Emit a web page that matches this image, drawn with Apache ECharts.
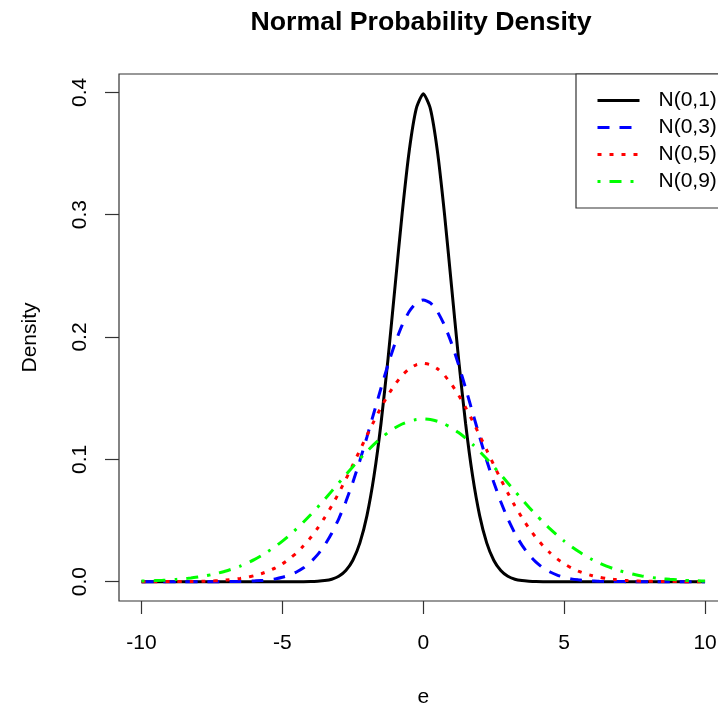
<!DOCTYPE html>
<html>
<head>
<meta charset="utf-8">
<script src="https://cdn.jsdelivr.net/npm/echarts@6/dist/echarts.min.js"></script>
<style>
html,body{margin:0;padding:0;background:#fff;}
#chart{width:718px;height:706px;}
</style>
</head>
<body>
<div id="chart"></div>
<script>
// ---- data ----
var titleText = 'Normal Probability Density';
var xName = 'e';
var yName = 'Density';
var seriesNames = ['N(0,1)', 'N(0,3)', 'N(0,5)', 'N(0,9)'];
var xTicks = [-10, -5, 0, 5, 10];
var yTicks = [0, 0.1, 0.2, 0.3, 0.4];

var xs = [-10,-9.75,-9.5,-9.25,-9,-8.75,-8.5,-8.25,-8,-7.75,-7.5,-7.25,-7,-6.75,-6.5,-6.25,-6,-5.75,-5.5,-5.25,
  -5,-4.75,-4.5,-4.25,-4,-3.75,-3.5,-3.25,-3,-2.75,-2.5,-2.25,-2,-1.75,-1.5,-1.25,-1,-0.75,-0.5,-0.25,
  0,0.25,0.5,0.75,1,1.25,1.5,1.75,2,2.25,2.5,2.75,3,3.25,3.5,3.75,4,4.25,4.5,4.75,
  5,5.25,5.5,5.75,6,6.25,6.5,6.75,7,7.25,7.5,7.75,8,8.25,8.5,8.75,9,9.25,9.5,9.75,10];

var n01 = [0,0,0,0,0,0,0,0,0,0,0,0,0,0,0,0,0,0,0,0,0,0,0,0,
  0.0001,0.0004,0.0009,0.0020,0.0044,0.0091,0.0175,0.0317,0.0540,0.0863,0.1295,0.1826,0.2420,0.3011,0.3521,0.3867,
  0.3989,
  0.3867,0.3521,0.3011,0.2420,0.1826,0.1295,0.0863,0.0540,0.0317,0.0175,0.0091,0.0044,0.0020,0.0009,0.0004,0.0001,
  0,0,0,0,0,0,0,0,0,0,0,0,0,0,0,0,0,0,0,0,0,0,0,0];

var n03 = [0,0,0,0,0,0,0,0,0,0,0,0,
  0.0001,0.0001,0.0002,0.0003,0.0006,0.0009,0.0015,0.0023,0.0036,0.0054,0.0079,0.0113,0.0160,0.0221,0.0299,0.0396,
  0.0514,0.0653,0.0813,0.0991,0.1183,0.1383,0.1583,0.1775,0.1950,0.2097,0.2209,0.2279,
  0.2303,
  0.2279,0.2209,0.2097,0.1950,0.1775,0.1583,0.1383,0.1183,0.0991,0.0813,0.0653,0.0514,
  0.0396,0.0299,0.0221,0.0160,0.0113,0.0079,0.0054,0.0036,0.0023,0.0015,0.0009,0.0006,0.0003,0.0002,0.0001,0.0001,
  0,0,0,0,0,0,0,0,0,0,0,0];

var n05 = [0,0,0,0,
  0.0001,0.0001,0.0001,0.0002,0.0003,0.0004,0.0006,0.0009,0.0013,0.0019,0.0026,0.0036,0.0049,0.0065,0.0087,0.0113,
  0.0146,0.0187,0.0235,0.0293,0.0360,0.0437,0.0524,0.0620,0.0725,0.0837,0.0955,0.1075,0.1196,0.1313,0.1425,0.1526,
  0.1614,0.1687,0.1740,0.1773,
  0.1784,
  0.1773,0.1740,0.1687,0.1614,0.1526,0.1425,0.1313,0.1196,0.1075,0.0955,0.0837,0.0725,0.0620,0.0524,0.0437,0.0360,
  0.0293,0.0235,0.0187,0.0146,0.0113,0.0087,0.0065,0.0049,0.0036,0.0026,0.0019,0.0013,0.0009,0.0006,0.0004,0.0003,
  0.0002,0.0001,0.0001,0.0001,
  0,0,0,0];

var n09 = [0.0005,0.0007,0.0009,0.0011,0.0015,0.0019,0.0024,0.0030,0.0038,0.0047,0.0058,0.0072,0.0087,0.0106,0.0127,
  0.0152,0.0180,0.0212,0.0248,0.0288,0.0332,0.0380,0.0432,0.0488,0.0547,0.0609,0.0673,0.0740,0.0807,0.0874,0.0940,
  0.1004,0.1065,0.1122,0.1174,0.1219,0.1258,0.1289,0.1311,0.1325,
  0.1330,
  0.1325,0.1311,0.1289,0.1258,0.1219,0.1174,0.1122,0.1065,0.1004,0.0940,0.0874,0.0807,0.0740,0.0673,0.0609,0.0547,
  0.0488,0.0432,0.0380,0.0332,0.0288,0.0248,0.0212,0.0180,0.0152,0.0127,0.0106,0.0087,0.0072,0.0058,0.0047,0.0038,
  0.0030,0.0024,0.0019,0.0015,0.0011,0.0009,0.0007,0.0005];

var seriesValues = [n01, n03, n05, n09];
var seriesColors = ['#000000', '#0000ff', '#ff0000', '#00ff00'];
var seriesDash = ['solid', [12, 10], [4, 8], [3, 9, 12, 9]];

// ---- chart ----
var FONT = '"Liberation Sans", Arial, Helvetica, sans-serif';
var chart = echarts.init(document.getElementById('chart'), null, {renderer: 'canvas'});

function pairs(vals) {
  var out = [];
  for (var i = 0; i < xs.length; i++) out.push([xs[i], vals[i]]);
  return out;
}

var series = seriesNames.map(function (name, k) {
  return {
    name: name,
    type: 'line',
    data: pairs(seriesValues[k]),
    symbol: 'none',
    showSymbol: false,
    smooth: 0.2,
    silent: true,
    z: 2 + k,
    lineStyle: {color: seriesColors[k], width: 3, type: seriesDash[k], cap: 'butt'},
    itemStyle: {color: seriesColors[k]}
  };
});

var option = {
  backgroundColor: '#ffffff',
  animation: false,
  title: {
    text: titleText,
    left: 416,
    top: 4,
    textAlign: 'center',
    textStyle: {fontFamily: FONT, fontSize: 26.7, fontWeight: 'bold', color: '#000'}
  },
  legend: {
    data: seriesNames,
    orient: 'vertical',
    left: 576,
    top: 74,
    padding: [16, 20, 16, 20],
    itemGap: 6,
    itemWidth: 42,
    itemHeight: 14,
    borderColor: '#333',
    borderWidth: 1.2,
    borderRadius: 0,
    backgroundColor: '#fff',
    itemStyle: {opacity: 0, borderWidth: 0},
    lineStyle: {width: 3},
    textStyle: {fontFamily: FONT, fontSize: 21, color: '#000', lineHeight: 21, padding: [0, 0, 0, 14]}
  },
  grid: {
    left: 119,
    top: 74,
    width: 608.6,
    height: 527,
    containLabel: false,
    outerBoundsMode: 'none',
    show: true,
    borderColor: '#333',
    borderWidth: 1.2,
    backgroundColor: 'transparent'
  },
  xAxis: {
    type: 'value',
    min: -10.8,
    max: 10.8,
    name: xName,
    nameLocation: 'middle',
    nameGap: 86,
    nameTextStyle: {fontFamily: FONT, fontSize: 21, color: '#000'},
    axisLine: {show: false, onZero: false},
    splitLine: {show: false},
    axisTick: {show: true, customValues: xTicks, length: 13, lineStyle: {color: '#333', width: 1.2}},
    axisLabel: {customValues: xTicks, margin: 32, fontFamily: FONT, fontSize: 21, color: '#000'}
  },
  yAxis: {
    type: 'value',
    min: -0.0158,
    max: 0.415,
    name: yName,
    nameLocation: 'middle',
    nameRotate: 90,
    nameGap: 78,
    nameTextStyle: {fontFamily: FONT, fontSize: 21, color: '#000'},
    axisLine: {show: false, onZero: false},
    splitLine: {show: false},
    axisTick: {show: true, customValues: yTicks, length: 14, lineStyle: {color: '#333', width: 1.2}},
    axisLabel: {
      customValues: yTicks, rotate: 90, margin: 28, fontFamily: FONT, fontSize: 21, color: '#000',
      formatter: function (v) { return v.toFixed(1); }
    }
  },
  series: series
};
chart.setOption(option);
</script>
</body>
</html>
